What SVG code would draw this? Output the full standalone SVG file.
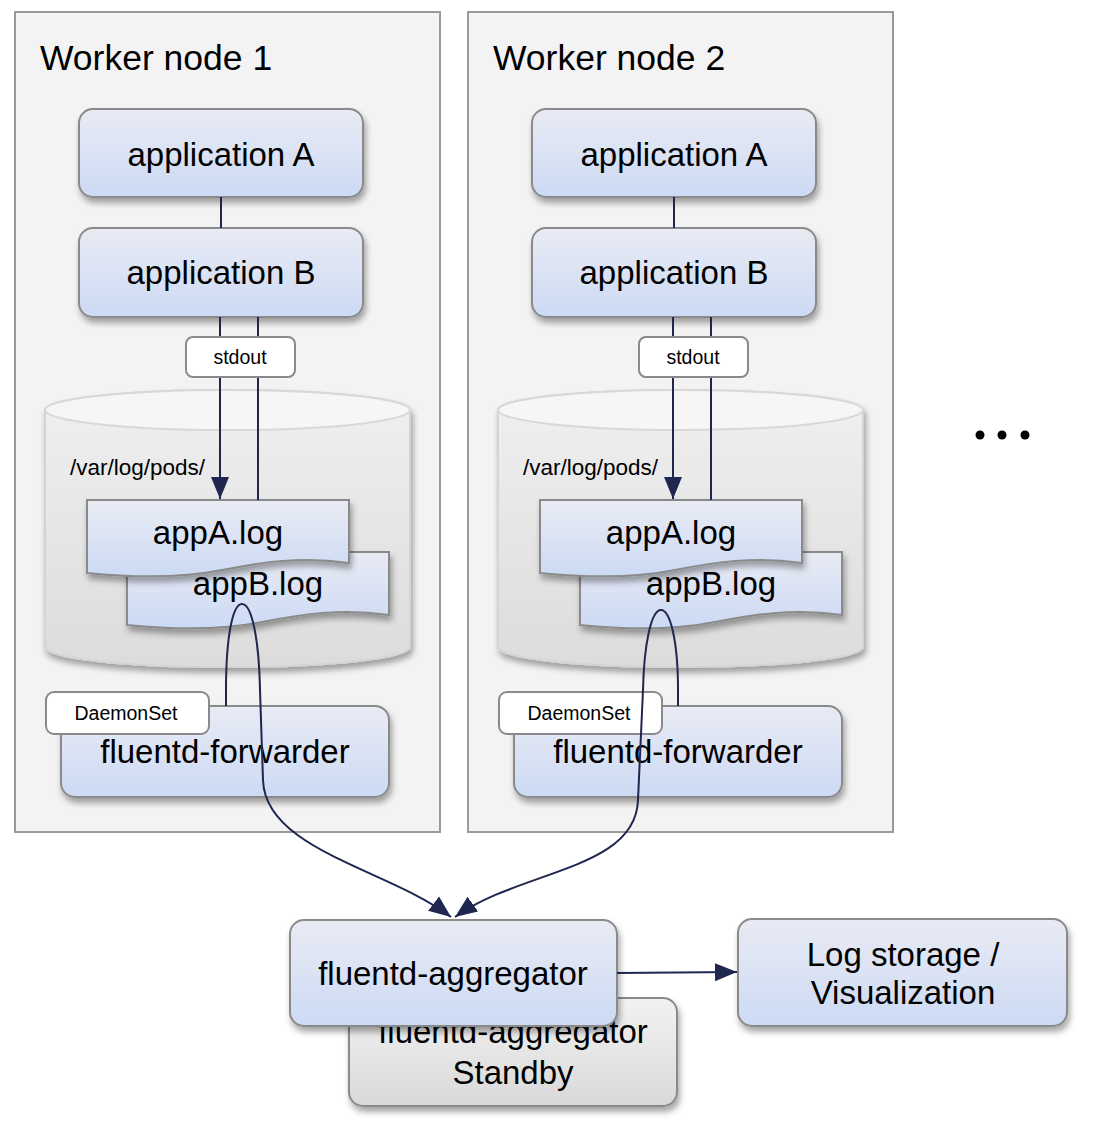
<svg xmlns="http://www.w3.org/2000/svg" width="1094" height="1132" viewBox="0 0 1094 1132">
<defs>
<linearGradient id="blue" x1="0" y1="0" x2="0" y2="1"><stop offset="0" stop-color="#e9ebf4"/><stop offset="1" stop-color="#ccdaf4"/></linearGradient>
<linearGradient id="gray" x1="0" y1="0" x2="0" y2="1"><stop offset="0" stop-color="#f2f2f2"/><stop offset="1" stop-color="#d9d9d9"/></linearGradient>
<linearGradient id="cyl" x1="0" y1="0" x2="0" y2="1"><stop offset="0" stop-color="#f0f0f0"/><stop offset="1" stop-color="#dcdcdc"/></linearGradient>
<filter id="sh" x="-20%" y="-20%" width="140%" height="150%"><feDropShadow dx="2" dy="5" stdDeviation="3" flood-color="#000" flood-opacity="0.35"/></filter>
<marker id="ah" markerUnits="userSpaceOnUse" markerWidth="24" markerHeight="20" viewBox="0 0 24 20" refX="22" refY="10" orient="auto"><path d="M0,1 L22,10 L0,19 Z" fill="#1f2650"/></marker>
<path id="doc" d="M0,0 H262 V63 C215,56 175,62 135,70 C90,79 40,77 0,73 Z"/>
</defs>
<style>
.wn{fill:#f3f3f3;stroke:#9a9a9a;stroke-width:2}
.nd{fill:url(#blue);stroke:#8a8a8a;stroke-width:2;filter:url(#sh)}
.gn{fill:url(#gray);stroke:#8a8a8a;stroke-width:2;filter:url(#sh)}
.lb{fill:#fff;stroke:#8a8a8a;stroke-width:2}
.t{font-family:"Liberation Sans",Arial,sans-serif;fill:#000;text-anchor:middle}
.big{font-size:33px}
.ttl{font-family:"Liberation Sans",Arial,sans-serif;font-size:35.5px;fill:#000}
.sm{font-size:19.5px}
.pth{font-family:"Liberation Sans",Arial,sans-serif;font-size:22.5px;fill:#000}
.c{fill:none;stroke:#1f2650;stroke-width:2}
.cylb{fill:url(#cyl);stroke:#d4d4d4;stroke-width:2;filter:url(#sh)}
.cylt{fill:#f6f6f6;stroke:#d8d8d8;stroke-width:2}
</style>

<g id="worker1">
<rect class="wn" x="15" y="12" width="425" height="820"/>
<text class="ttl" x="40" y="70">Worker node 1</text>
</g>
<g id="worker2">
<rect class="wn" x="468" y="12" width="425" height="820"/>
<text class="ttl" x="493" y="70">Worker node 2</text>
</g>

<g id="w1-appA"><rect class="nd" x="79" y="109" width="284" height="88" rx="14"/><text class="t big" x="221" y="166">application A</text></g>
<g id="w1-appB"><rect class="nd" x="79" y="228" width="284" height="89" rx="14"/><text class="t big" x="221" y="284">application B</text></g>
<g id="w2-appA"><rect class="nd" x="532" y="109" width="284" height="88" rx="14"/><text class="t big" x="674" y="166">application A</text></g>
<g id="w2-appB"><rect class="nd" x="532" y="228" width="284" height="89" rx="14"/><text class="t big" x="674" y="284">application B</text></g>

<g id="w1-disk">
<path class="cylb" d="M45,410 A182.5,20 0 0 1 410,410 V647 A182.5,20 0 0 1 45,647 Z"/>
<ellipse class="cylt" cx="227.5" cy="410" rx="182.5" ry="20"/>
<text class="pth" x="70" y="475">/var/log/pods/</text>
</g>
<g id="w2-disk">
<path class="cylb" d="M498,410 A182.5,20 0 0 1 863,410 V647 A182.5,20 0 0 1 498,647 Z"/>
<ellipse class="cylt" cx="680.5" cy="410" rx="182.5" ry="20"/>
<text class="pth" x="523" y="475">/var/log/pods/</text>
</g>

<g id="w1-appBlog"><use href="#doc" class="nd" transform="translate(127,552)"/><text class="t big" x="258" y="595">appB.log</text></g>
<g id="w1-appAlog"><use href="#doc" class="nd" transform="translate(87,500)"/><text class="t big" x="218" y="544">appA.log</text></g>
<g id="w2-appBlog"><use href="#doc" class="nd" transform="translate(580,552)"/><text class="t big" x="711" y="595">appB.log</text></g>
<g id="w2-appAlog"><use href="#doc" class="nd" transform="translate(540,500)"/><text class="t big" x="671" y="544">appA.log</text></g>

<g id="w1-forwarder"><rect class="nd" x="61" y="706" width="328" height="91" rx="14"/><text class="t big" x="225" y="763">fluentd-forwarder</text></g>
<g id="w1-daemonset"><rect class="lb" x="46" y="692" width="163" height="42" rx="8"/><text class="t sm" x="126" y="720">DaemonSet</text></g>
<g id="w2-forwarder"><rect class="nd" x="514" y="706" width="328" height="91" rx="14"/><text class="t big" x="678" y="763">fluentd-forwarder</text></g>
<g id="w2-daemonset"><rect class="lb" x="499" y="692" width="163" height="42" rx="8"/><text class="t sm" x="579" y="720">DaemonSet</text></g>

<g id="standby"><rect class="gn" x="349" y="998" width="328" height="108" rx="14"/><text class="t big" x="513" y="1043">fluentd-aggregator</text><text class="t big" x="513" y="1084">Standby</text></g>
<g id="aggregator"><rect class="nd" x="290" y="920" width="327" height="106" rx="14"/><text class="t big" x="453" y="985">fluentd-aggregator</text></g>
<g id="storage"><rect class="nd" x="738" y="919" width="329" height="107" rx="14"/><text class="t big" x="903" y="966">Log storage /</text><text class="t big" x="903" y="1004">Visualization</text></g>

<g id="more"><circle cx="980" cy="435" r="4.5"/><circle cx="1002" cy="435" r="4.5"/><circle cx="1025" cy="435" r="4.5"/></g>

<g id="connectors">
<path class="c" d="M221,197 V228"/>
<path class="c" d="M674,197 V228"/>
<path class="c" d="M220,317 V499" marker-end="url(#ah)"/>
<path class="c" d="M258,317 V500"/>
<path class="c" d="M673,317 V499" marker-end="url(#ah)"/>
<path class="c" d="M711,317 V500"/>
<path class="c" d="M226,706 V690 C226,640 232,604 242,604 C252,604 259,640 260,690 L263,780 C265,850 390,870 451,917" marker-end="url(#ah)"/>
<path class="c" d="M678,706 V690 C678,640 670,610 661,610 C651,610 644,645 643,690 L638,800 C636,870 520,870 455,917" marker-end="url(#ah)"/>
<path class="c" d="M617,973 L737,972" marker-end="url(#ah)"/>
</g>

<g id="w1-stdout"><rect class="lb" x="186" y="337" width="109" height="40" rx="7"/><text class="t sm" x="240" y="364">stdout</text></g>
<g id="w2-stdout"><rect class="lb" x="639" y="337" width="109" height="40" rx="7"/><text class="t sm" x="693" y="364">stdout</text></g>
</svg>
